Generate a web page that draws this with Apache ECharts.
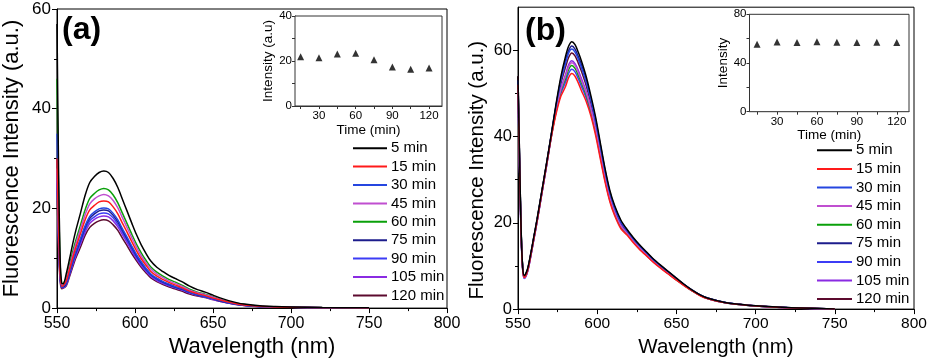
<!DOCTYPE html>
<html>
<head>
<meta charset="utf-8">
<script src="https://cdn.jsdelivr.net/npm/echarts@6/dist/echarts.min.js"></script>
<style>
html,body{margin:0;padding:0;background:#fff;}
#chart{width:930px;height:363px;}
</style>
</head>
<body>
<div id="chart"></div>
<script>
// ---------- DATA ----------
const seriesNames = ['5 min','15 min','30 min','45 min','60 min','75 min','90 min','105 min','120 min'];
const seriesColors = ['#000000','#ff1a1a','#2546e0','#c04fd0','#0aa00a','#1c1c8c','#3c3cf5','#8a2be2','#5c0a2e'];

// Panel (a) wavelengths (nm)
const wavelengthA = [550,551,552,553,554,556,558,560,562,565,568,571,574,577,580,583,586,589,592,595,598,601,604,607,610,614,618,622,626,630,635,640,645,650,655,660,665,670,680,690,700,720,750];
const a5   = [57,28,10,5.0,4.9,7.0,9.8,12.8,15.5,19.0,22.6,25.2,26.4,27.2,27.5,27.2,26.0,24.2,21.8,19.4,17.0,14.7,12.7,11.0,9.5,8.2,7.3,6.5,5.9,5.3,4.4,3.7,3.2,2.6,2.0,1.5,1.1,0.8,0.45,0.3,0.22,0.12,0.05];
const a15  = [30,16,7,4.4,4.5,5.5,7.7,10.0,12.1,14.9,17.7,19.7,20.6,21.3,21.5,21.3,20.3,18.9,17.0,15.2,13.3,11.5,9.9,8.6,7.4,6.4,5.7,5.1,4.6,4.1,3.4,2.9,2.5,2.0,1.6,1.2,0.86,0.63,0.35,0.23,0.17,0.09,0.04];
const a30  = [35,18,7.5,4.3,4.4,5.1,7.2,9.4,11.3,13.9,16.5,18.4,19.3,19.9,20.1,19.9,19.0,17.7,15.9,14.2,12.4,10.7,9.3,8.0,6.9,6.0,5.3,4.8,4.3,3.9,3.2,2.7,2.3,1.9,1.5,1.1,0.8,0.58,0.33,0.22,0.16,0.09,0.04];
const a45  = [28,15,7,4.6,4.7,5.8,8.1,10.6,12.8,15.8,18.7,20.9,21.9,22.5,22.8,22.5,21.6,20.1,18.1,16.1,14.1,12.2,10.5,9.1,7.9,6.8,6.1,5.4,4.9,4.4,3.6,3.1,2.7,2.2,1.7,1.2,0.91,0.66,0.37,0.25,0.18,0.1,0.04];
const a60  = [46,23,9,4.8,4.9,6.1,8.6,11.2,13.5,16.6,19.7,22.0,23.0,23.7,24.0,23.7,22.7,21.1,19.0,16.9,14.8,12.8,11.1,9.6,8.3,7.2,6.4,5.7,5.2,4.6,3.8,3.2,2.8,2.3,1.7,1.3,0.96,0.7,0.39,0.26,0.19,0.1,0.04];
const a75  = [30,15,6.5,4.3,4.3,5.0,7.0,9.2,11.1,13.6,16.2,18.0,18.9,19.5,19.7,19.5,18.6,17.3,15.6,13.9,12.2,10.5,9.1,7.9,6.8,5.9,5.2,4.7,4.2,3.8,3.2,2.6,2.3,1.9,1.4,1.1,0.79,0.57,0.32,0.21,0.16,0.09,0.04];
const a90  = [27,14,6,4.2,4.2,4.9,6.8,8.9,10.8,13.2,15.7,17.5,18.3,18.9,19.1,18.9,18.1,16.8,15.2,13.5,11.8,10.2,8.8,7.6,6.6,5.7,5.1,4.5,4.1,3.7,3.1,2.6,2.2,1.8,1.4,1.0,0.76,0.56,0.31,0.21,0.15,0.08,0.03];
const a105 = [26,13,6,4.1,4.1,4.7,6.6,8.6,10.4,12.8,15.2,17.0,17.8,18.3,18.5,18.3,17.5,16.3,14.7,13.1,11.4,9.9,8.5,7.4,6.4,5.5,4.9,4.4,4.0,3.6,3.0,2.5,2.2,1.7,1.3,1.0,0.74,0.54,0.3,0.2,0.15,0.08,0.03];
const a120 = [25,12,5.5,3.9,4.0,4.5,6.3,8.2,10.0,12.2,14.6,16.2,17.0,17.5,17.7,17.5,16.7,15.6,14.0,12.5,10.9,9.5,8.2,7.1,6.1,5.3,4.7,4.2,3.8,3.4,2.8,2.4,2.1,1.7,1.3,1.0,0.71,0.52,0.29,0.19,0.14,0.08,0.03];

// Panel (b) wavelengths (nm)
const wavelengthB = [550,551,552,553,554,556,558,560,562,565,568,571,574,577,580,582,584,586,588,590,593,596,599,602,605,608,611,615,619,623,627,631,635,640,645,650,655,660,665,670,680,690,700,720,750];
const b5   = [54,35,18,9.5,7.8,9.3,12.8,16.8,20.8,27.3,33.8,40.5,47.5,53.8,58.6,61.0,62.0,61.3,59.6,57.6,54.0,49.5,44.5,38.5,32.5,27.5,24.0,20.6,18.4,16.5,14.8,13.3,11.8,10.2,8.7,7.2,5.7,4.4,3.3,2.5,1.6,1.1,0.75,0.35,0.05];
const b15  = [52,33,17,9.0,7.3,8.8,12.3,16.3,20.3,26.8,33.3,39.8,45.2,49.3,51.6,53.7,54.6,54.0,52.5,50.7,48.2,44.8,40.3,34.8,29.4,24.9,21.7,18.6,17.1,15.3,13.7,12.4,11.0,9.5,8.1,6.7,5.4,4.2,3.1,2.4,1.5,1.05,0.71,0.33,0.05];
const b30  = [53,34,17.5,9.3,7.5,9.0,12.5,16.5,20.5,27.0,33.5,40.3,47.0,52.8,57.0,59.4,60.3,59.6,58.0,56.0,52.7,48.4,43.5,37.7,31.8,26.9,23.5,20.1,18.1,16.2,14.6,13.1,11.6,10.0,8.6,7.1,5.6,4.35,3.3,2.5,1.6,1.09,0.74,0.35,0.05];
const b45  = [51,33,17,9.0,7.2,8.7,12.2,16.2,20.2,26.7,33.2,40.0,46.0,50.8,54.0,56.2,57.1,56.5,54.9,53.0,50.2,46.4,41.7,36.1,30.5,25.8,22.5,19.3,17.5,15.7,14.1,12.7,11.2,9.7,8.3,6.9,5.5,4.3,3.2,2.4,1.55,1.06,0.73,0.34,0.05];
const b60  = [52,34,17.5,9.2,7.4,8.9,12.4,16.4,20.4,26.9,33.4,40.0,45.8,50.5,53.4,55.6,56.5,55.8,54.3,52.5,49.7,46.0,41.3,35.8,30.2,25.5,22.3,19.1,17.4,15.6,14.0,12.6,11.2,9.7,8.2,6.8,5.5,4.2,3.2,2.4,1.54,1.06,0.72,0.34,0.05];
const b75  = [53,34,17.5,9.4,7.6,9.1,12.6,16.6,20.6,27.1,33.6,40.4,47.2,53.2,57.7,60.0,61.0,60.3,58.6,56.7,53.2,48.9,43.9,38.0,32.1,27.1,23.7,20.3,18.2,16.3,14.7,13.2,11.7,10.1,8.6,7.1,5.7,4.4,3.3,2.5,1.6,1.1,0.75,0.35,0.05];
const b90  = [50,32,16.5,8.9,7.1,8.6,12.1,16.1,20.1,26.6,33.1,39.9,45.6,49.9,52.6,54.7,55.6,55.0,53.5,51.7,49.0,45.4,40.9,35.3,29.8,25.2,22.0,18.9,17.3,15.5,13.9,12.5,11.1,9.6,8.2,6.8,5.5,4.2,3.2,2.4,1.53,1.05,0.72,0.34,0.05];
const b105 = [51,33,17,9.0,7.2,8.7,12.2,16.2,20.2,26.7,33.2,40.1,46.2,51.1,54.4,56.7,57.6,56.9,55.4,53.5,50.5,46.7,42.0,36.3,30.6,25.9,22.6,19.4,17.6,15.8,14.2,12.7,11.3,9.8,8.3,6.9,5.5,4.3,3.2,2.4,1.56,1.07,0.73,0.34,0.05];
const b120 = [54,35,18,9.4,7.6,9.1,12.6,16.6,20.6,27.1,33.6,40.3,46.7,52.2,56.1,58.4,59.4,58.7,57.1,55.2,51.9,47.8,43.0,37.2,31.4,26.6,23.2,19.9,17.9,16.1,14.4,13.0,11.5,9.9,8.5,7.0,5.6,4.3,3.2,2.5,1.57,1.08,0.74,0.34,0.05];

// Insets: time (min) vs intensity
const insetTime = [15,30,45,60,75,90,105,120];
const insetA = [21.9,21.5,23.1,23.4,20.6,17.3,16.3,16.9];
const insetB = [55.4,57.2,56.9,57.4,57.0,56.9,57.1,56.9];

// tick labels
const mainXTicks = [550,600,650,700,750,800];
const mainYTicksA = [0,20,40,60];
const mainYTicksB = [0,20,40,60];
const insetXTicks = [30,60,90,120];
const insetYTicksA = [0,20,40];
const insetYTicksB = [0,40,80];

// ---------- CHART ----------
const FONT = '"Liberation Sans", Arial, sans-serif';
const seriesA = [a5,a15,a30,a45,a60,a75,a90,a105,a120];
const seriesB = [b5,b15,b30,b45,b60,b75,b90,b105,b120];

const chart = echarts.init(document.getElementById('chart'), null, {renderer:'canvas'});

function pairs(xs, ys){ return xs.map((x,i)=>[x, ys[i]]); }

function xMain(gi, fs, ns, gap){
  return {type:'value', gridIndex:gi, min:550, max:800, interval:50,
    name:'Wavelength (nm)', nameLocation:'middle', nameGap:gap,
    nameTextStyle:{fontSize:ns, color:'#000', fontFamily:FONT},
    axisLine:{onZero:false, lineStyle:{color:'#000', width:1}},
    axisTick:{inside:false, length:5, lineStyle:{color:'#000'}},
    minorTick:{show:true, splitNumber:2, length:3, lineStyle:{color:'#000'}},
    axisLabel:{fontSize:fs, color:'#000', fontFamily:FONT, margin:7,
      customValues: mainXTicks},
    splitLine:{show:false}, minorSplitLine:{show:false}};
}
function yMain(gi, max, ticks, fs, ns, gap, pad){
  return {type:'value', gridIndex:gi, min:0, max:max,
    name:'Fluorescence Intensity (a.u.)', nameLocation:'middle', nameGap:gap, nameRotate:90,
    nameTextStyle:{fontSize:ns, color:'#000', fontFamily:FONT, padding:pad},
    axisLine:{onZero:false, lineStyle:{color:'#000', width:1}},
    axisTick:{inside:false, length:5, lineStyle:{color:'#000'}, customValues: ticks},
    axisLabel:{fontSize:fs, color:'#000', fontFamily:FONT, margin:6, customValues: ticks},
    splitLine:{show:false}};
}
function yMinor(gi, max, vals){
  return {type:'value', gridIndex:gi, min:0, max:max, position:'left',
    axisLine:{show:false}, axisLabel:{show:false}, splitLine:{show:false},
    axisTick:{show:true, inside:false, length:3, lineStyle:{color:'#000'}, customValues: vals}};
}
function xInset(gi, min, max, gap){
  return {type:'value', gridIndex:gi, min:min, max:max,
    name:'Time (min)', nameLocation:'middle', nameGap:gap,
    nameTextStyle:{fontSize:13.5, color:'#000', fontFamily:FONT},
    axisLine:{onZero:false, lineStyle:{color:'#333', width:1}},
    axisTick:{inside:false, length:3, lineStyle:{color:'#333'}, customValues:[15,30,45,60,75,90,105,120]},
    axisLabel:{fontSize:11.5, color:'#000', fontFamily:FONT, margin:4, customValues: insetXTicks},
    splitLine:{show:false}};
}
function yInset(gi, max, labels, ticks, name, gap){
  return {type:'value', gridIndex:gi, min:0, max:max,
    name:name, nameLocation:'middle', nameGap:gap, nameRotate:90,
    nameTextStyle:{fontSize:13.5, color:'#000', fontFamily:FONT},
    axisLine:{onZero:false, lineStyle:{color:'#333', width:1}},
    axisTick:{inside:false, length:3, lineStyle:{color:'#333'}, customValues:ticks},
    axisLabel:{fontSize:11.5, color:'#000', fontFamily:FONT, margin:3, customValues: labels},
    splitLine:{show:false}};
}

const series = [];
seriesNames.forEach((n,i)=>{
  series.push({name:n, type:'line', xAxisIndex:0, yAxisIndex:0, data:pairs(wavelengthA, seriesA[i]),
    showSymbol:false, symbol:'none', smooth:0.3, clip:true,
    lineStyle:{color:seriesColors[i], width:1.5}, itemStyle:{color:seriesColors[i]}, z:10-i});
});
seriesNames.forEach((n,i)=>{
  series.push({name:n, type:'line', xAxisIndex:1, yAxisIndex:1, data:pairs(wavelengthB, seriesB[i]),
    showSymbol:false, symbol:'none', smooth:0.3, clip:true,
    lineStyle:{color:seriesColors[i], width:1.5}, itemStyle:{color:seriesColors[i]}, z:10-i});
});
series.push({name:'insetA', type:'scatter', xAxisIndex:2, yAxisIndex:2, data:pairs(insetTime, insetA),
  symbol:'triangle', symbolSize:7, itemStyle:{color:'#000'}, z:20});
series.push({name:'insetB', type:'scatter', xAxisIndex:3, yAxisIndex:3, data:pairs(insetTime, insetB),
  symbol:'triangle', symbolSize:7, itemStyle:{color:'#000'}, z:20});

function legendCfg(left, top, w, lh){
  return {data:seriesNames, orient:'vertical', left:left, top:top, padding:0,
    icon:'rect', itemWidth:w, itemHeight:2, itemGap:0, selectedMode:false,
    textStyle:{fontSize:15, color:'#000', fontFamily:FONT, lineHeight:lh, padding:[0,0,0,-1]}};
}

const option = {
  animation:false,
  backgroundColor:'#fff',
  grid:[
    {left:57, top:9, width:390, height:301, show:true, borderColor:'#000', borderWidth:1, backgroundColor:'transparent'},
    {left:518, top:7.2, width:396, height:304.5, show:true, borderColor:'#000', borderWidth:1, backgroundColor:'transparent'},
    {left:295, top:16, width:147, height:90, show:true, borderColor:'#333', borderWidth:1, backgroundColor:'#fff', z:5},
    {left:749.5, top:14.3, width:159.5, height:97.4, show:true, borderColor:'#333', borderWidth:1, backgroundColor:'#fff', z:5}
  ],
  xAxis:[
    xMain(0, 16, 22, 27),
    xMain(1, 15.5, 20.5, 26),
    xInset(2, 10.4, 130.6, 15),
    xInset(3, 9.3, 129.2, 16)
  ],
  yAxis:[
    yMain(0, 60, mainYTicksA, 17, 22, 34, [0,0,0,0]),
    yMain(1, 70, mainYTicksB, 16.5, 20.5, 30, [0,24,0,0]),
    yInset(2, 40, insetYTicksA, [0,10,20,30,40], 'Intensity (a.u)', 20),
    yInset(3, 80, insetYTicksB, [0,20,40,60,80], 'Intensity', 14),
    yMinor(0, 60, [10,30,50]),
    yMinor(1, 70, [10,30,50])
  ],
  legend:[legendCfg(353, 139, 34, 18.4), legendCfg(817, 141, 35, 18.6)],
  graphic:[
    {type:'text', left:62, top:14, style:{text:'(a)', font:'bold 32px ' + FONT, fill:'#000'}},
    {type:'text', left:525, top:15, style:{text:'(b)', font:'bold 32px ' + FONT, fill:'#000'}}
  ],
  series:series
};
chart.setOption(option);
</script>
</body>
</html>
